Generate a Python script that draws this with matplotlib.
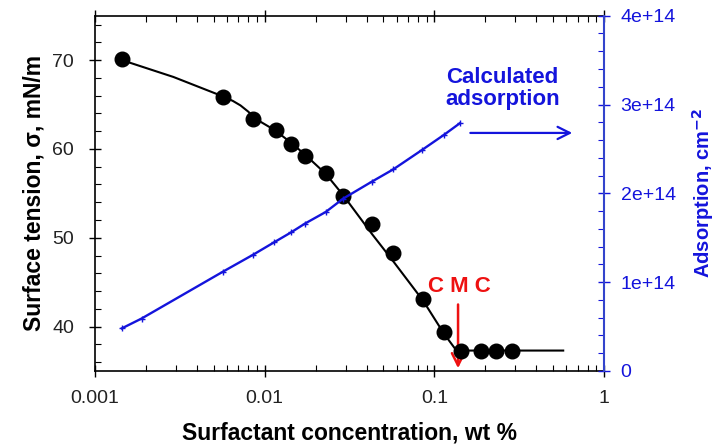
import matplotlib
matplotlib.use('Agg')
import matplotlib.pyplot as plt
from matplotlib.ticker import FixedLocator, FuncFormatter, NullFormatter, LogLocator
import numpy as np

plt.rcParams['font.family'] = ['Liberation Sans', 'DejaVu Sans']

# surface tension measurements (wt %, mN/m)
conc = [0.00144, 0.0057, 0.00857, 0.0116, 0.01435, 0.0173, 0.0229, 0.029,
        0.0431, 0.0573, 0.0861, 0.1143, 0.1435, 0.1875, 0.2296, 0.2877]
tension = [70.1, 65.8, 63.4, 62.1, 60.5, 59.25, 57.26, 54.67,
           51.5, 48.3, 43.1, 39.4, 37.2, 37.3, 37.2, 37.2]

# fitted curve
fit_conc = [0.00144, 0.0029, 0.0057, 0.0065, 0.0072, 0.0080, 0.0090, 0.0115, 0.0143,
            0.0172, 0.0229, 0.029, 0.043, 0.057, 0.086, 0.114, 0.135, 0.575]
fit_tension = [70.0, 68.1, 65.9, 65.4, 64.9, 64.2, 63.3, 62.1, 60.7,
               59.4, 57.2, 54.8, 50.4, 47.4, 42.9, 39.2, 37.3, 37.3]

# calculated adsorption (cm^-2)
ads_conc = [0.00144, 0.00188, 0.0057, 0.00857, 0.0114, 0.0143, 0.0173, 0.0229,
            0.029, 0.0427, 0.0573, 0.0849, 0.1143, 0.1416]
adsorption = [0.48e14, 0.59e14, 1.12e14, 1.31e14, 1.45e14, 1.56e14, 1.66e14, 1.79e14,
              1.94e14, 2.13e14, 2.27e14, 2.49e14, 2.66e14, 2.79e14]

blue = '#1414dc'
red = '#ee1111'

fig = plt.figure(figsize=(7.18, 4.48), dpi=100)
ax = fig.add_axes([0.1323, 0.1719, 0.7089, 0.7931])
ax2 = ax.twinx()

ax.plot(fit_conc, fit_tension, color='black', lw=1.5, zorder=3)
ax.plot(conc, tension, 'o', color='black', ms=10.5, zorder=4)

ax2.plot(ads_conc, adsorption, '-', color=blue, lw=1.7, marker='+', ms=5, mew=1.0)

ax.set_xscale('log')
ax.set_xlim(0.001, 1)
ax.set_ylim(35, 75)
ax2.set_ylim(0, 4e14)

ax.xaxis.set_major_locator(FixedLocator([0.001, 0.01, 0.1, 1]))
ax.xaxis.set_major_formatter(FuncFormatter(lambda v, p: '%g' % v))
ax.xaxis.set_minor_locator(LogLocator(base=10, subs=np.arange(2, 10)))
ax.xaxis.set_minor_formatter(NullFormatter())
ax.yaxis.set_major_locator(FixedLocator([40, 50, 60, 70]))
ax.yaxis.set_minor_locator(FixedLocator(np.arange(36, 76, 2)))
ax2.yaxis.set_major_locator(FixedLocator([0, 1e14, 2e14, 3e14, 4e14]))
ax2.yaxis.set_minor_locator(FixedLocator(np.arange(0, 4.01e14, 0.2e14)))
ax2.yaxis.set_major_formatter(FuncFormatter(lambda v, p: '0' if v == 0 else '%de+14' % round(v / 1e14)))

ax.tick_params(axis='both', which='major', direction='inout', length=8, width=1,
               labelsize=14, colors='black', labelcolor='#222222', top=True, right=False)
ax.tick_params(axis='both', which='minor', direction='in', length=4, width=0.8, top=True, right=False)
ax.tick_params(axis='x', which='major', pad=10)
ax.tick_params(axis='y', which='major', pad=11)
ax2.tick_params(axis='y', which='major', direction='inout', length=8, width=1,
                labelsize=14, colors=blue, pad=8)
ax2.tick_params(axis='y', which='minor', direction='in', length=4, width=0.8, colors=blue)

ax.spines['right'].set_visible(False)
for s in ['top', 'left', 'bottom']:
    ax2.spines[s].set_visible(False)
ax2.spines['right'].set_color('#3344cc')
ax2.spines['right'].set_linewidth(1.5)
for s in ['top', 'left', 'bottom']:
    ax.spines[s].set_linewidth(1.2)

ax.set_xlabel('Surfactant concentration, wt %', fontsize=16.5, fontweight='bold', labelpad=10)
ax.set_ylabel('Surface tension, \u03c3, mN/m', fontsize=16.5, fontweight='bold', labelpad=5)
ax2.set_ylabel('Adsorption, cm$^{\\mathbf{-2}}$', fontsize=14.5, fontweight='bold', color=blue, labelpad=10)

ax2.text(0.252, 3.18e14, 'Calculated\nadsorption', color=blue, fontsize=16,
         fontweight='bold', ha='center', va='center', linespacing=1.05)
ax2.annotate('', xy=(0.675, 2.68e14), xytext=(0.157, 2.68e14),
             arrowprops=dict(arrowstyle='->', color=blue, lw=1.6, mutation_scale=22))

ax.text(0.140, 44.5, 'C M C', color=red, fontsize=16, fontweight='bold', ha='center', va='center')
ax.annotate('', xy=(0.138, 35), xytext=(0.138, 42.8),
            arrowprops=dict(arrowstyle='->', color=red, lw=1.8, mutation_scale=22))

fig.savefig('out.png', dpi=100)
